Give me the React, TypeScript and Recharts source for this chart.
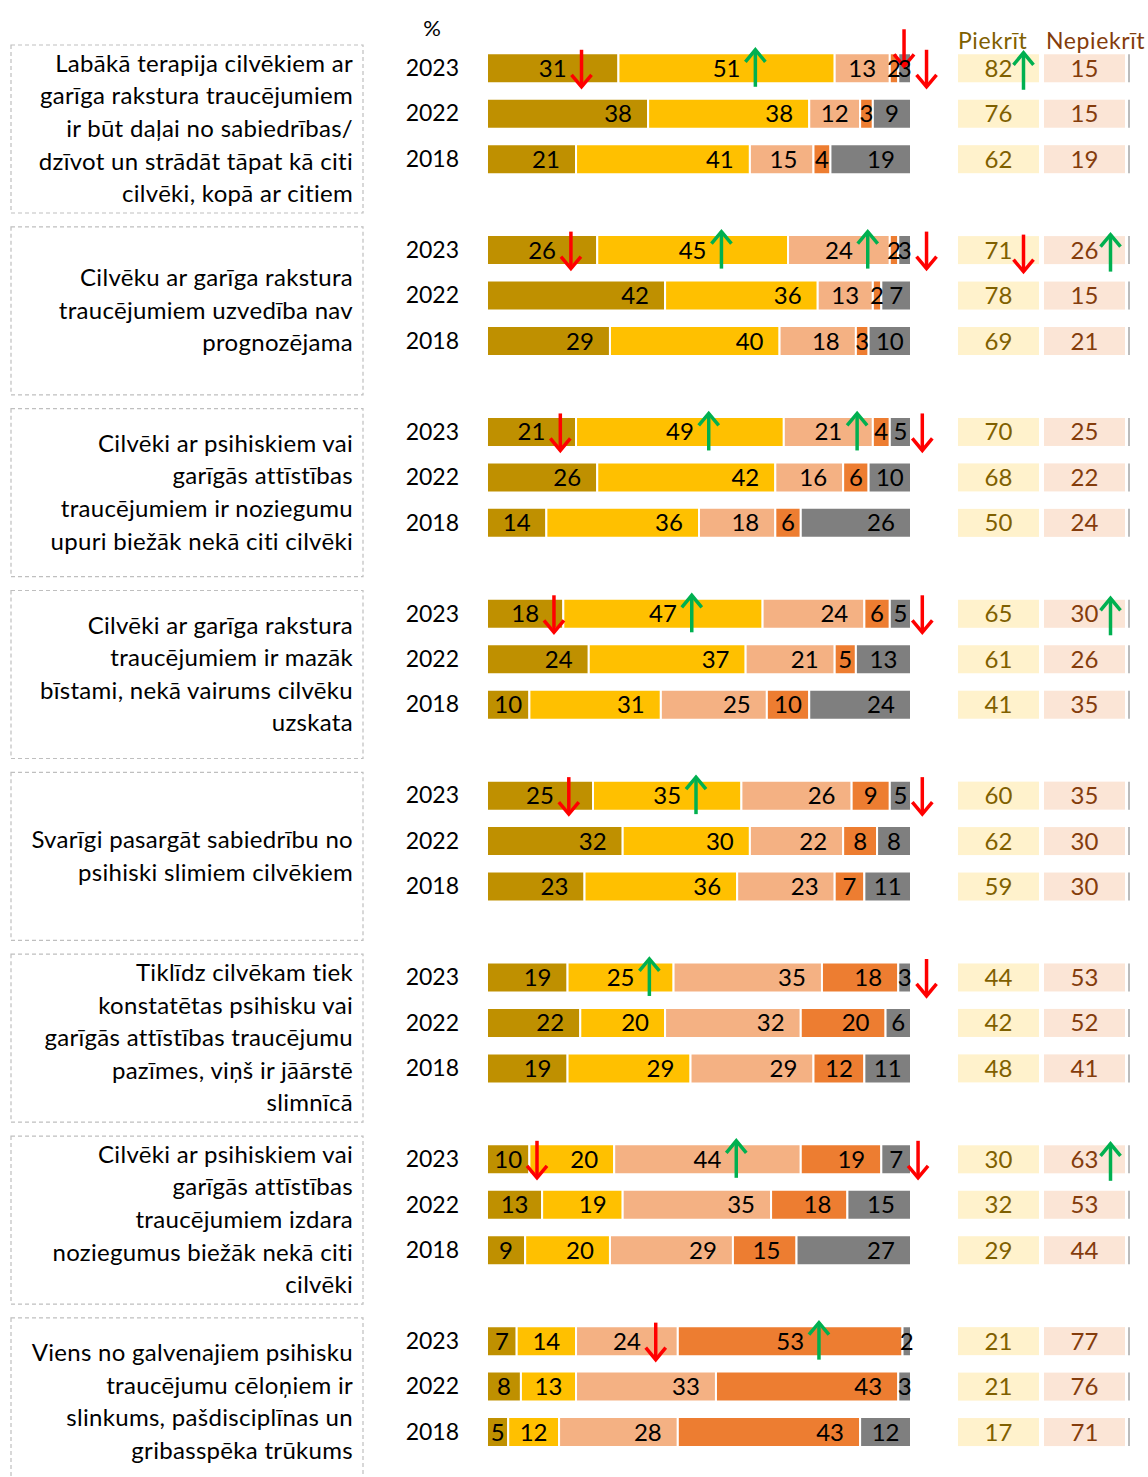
import React from "react";
import { BarChart, Bar, XAxis, YAxis } from "recharts";

const FONT = "Lato, 'Open Sans', sans-serif";

// statements (line breaks as in the original)
const QUESTIONS = [
  ["Labākā terapija cilvēkiem ar", "garīga rakstura traucējumiem", "ir būt daļai no sabiedrības/", "dzīvot un strādāt tāpat kā citi", "cilvēki, kopā ar citiem"],
  ["Cilvēku ar garīga rakstura", "traucējumiem uzvedība nav", "prognozējama"],
  ["Cilvēki ar psihiskiem vai", "garīgās attīstības", "traucējumiem ir noziegumu", "upuri biežāk nekā citi cilvēki"],
  ["Cilvēki ar garīga rakstura", "traucējumiem ir mazāk", "bīstami, nekā vairums cilvēku", "uzskata"],
  ["Svarīgi pasargāt sabiedrību no", "psihiski slimiem cilvēkiem"],
  ["Tiklīdz cilvēkam tiek", "konstatētas psihisku vai", "garīgās attīstības traucējumu", "pazīmes, viņš ir jāārstē", "slimnīcā"],
  ["Cilvēki ar psihiskiem vai", "garīgās attīstības", "traucējumiem izdara", "noziegumus biežāk nekā citi", "cilvēki"],
  ["Viens no galvenajiem psihisku", "traucējumu cēloņiem ir", "slinkums, pašdisciplīnas un", "gribasspēka trūkums"],
];

const YEARS = ["2023", "2022", "2018"];

// values per statement: [2023, 2022, 2018]
const STRONGLY_AGREE = [[31, 38, 21], [26, 42, 29], [21, 26, 14], [18, 24, 10], [25, 32, 23], [19, 22, 19], [10, 13, 9], [7, 8, 5]];
const RATHER_AGREE = [[51, 38, 41], [45, 36, 40], [49, 42, 36], [47, 37, 31], [35, 30, 36], [25, 20, 29], [20, 19, 20], [14, 13, 12]];
const RATHER_DISAGREE = [[13, 12, 15], [24, 13, 18], [21, 16, 18], [24, 21, 25], [26, 22, 23], [35, 32, 29], [44, 35, 29], [24, 33, 28]];
const STRONGLY_DISAGREE = [[2, 3, 4], [2, 2, 3], [4, 6, 6], [6, 5, 10], [9, 8, 7], [18, 20, 12], [19, 18, 15], [53, 43, 43]];
const HARD_TO_SAY = [[3, 9, 19], [3, 7, 10], [5, 10, 26], [5, 13, 24], [5, 8, 11], [3, 6, 11], [7, 15, 27], [2, 3, 12]];

const AGREE_TOTAL = [[82, 76, 62], [71, 78, 69], [70, 68, 50], [65, 61, 41], [60, 62, 59], [44, 42, 48], [30, 32, 29], [21, 21, 17]];
const DISAGREE_TOTAL = [[15, 15, 19], [26, 15, 21], [25, 22, 24], [30, 26, 35], [35, 30, 30], [53, 52, 41], [63, 53, 44], [77, 76, 71]];

// significant changes in 2023 (per segment, then totals)
const CHANGE_SEGMENTS_2023 = [
  ["down", "up", null, "down", "down"],
  ["down", "up", "up", null, "down"],
  ["down", "up", "up", null, "down"],
  ["down", "up", null, null, "down"],
  ["down", "up", null, null, "down"],
  [null, "up", null, null, "down"],
  ["down", null, "up", null, "down"],
  [null, null, "down", "up", null],
];
const CHANGE_AGREE_2023 = ["up", "down", null, null, null, null, null, null];
const CHANGE_DISAGREE_2023 = [null, "up", null, "up", null, null, "up", null];

const SERIES = [
  { key: "s1", name: "Pilnībā piekrīt", color: "#BF9000", values: STRONGLY_AGREE },
  { key: "s2", name: "Drīzāk piekrīt", color: "#FFC000", values: RATHER_AGREE },
  { key: "s3", name: "Drīzāk nepiekrīt", color: "#F4B183", values: RATHER_DISAGREE },
  { key: "s4", name: "Pilnībā nepiekrīt", color: "#ED7D31", values: STRONGLY_DISAGREE },
  { key: "s5", name: "Grūti pateikt", color: "#7F7F7F", values: HARD_TO_SAY },
];

// one row per year, with an empty row between statements
const rows: any[] = [];
QUESTIONS.forEach((_, g) => {
  YEARS.forEach((year, yi) => {
    const row: any = { id: `${g}-${year}`, group: g, yi, year, agree: AGREE_TOTAL[g][yi], disagree: DISAGREE_TOTAL[g][yi] };
    SERIES.forEach((s) => (row[s.key] = s.values[g][yi]));
    rows.push(row);
  });
  if (g < QUESTIONS.length - 1) rows.push({ id: `gap-${g}`, group: g, yi: -1 });
});

const WIDTH = 1148;
const HEIGHT = 1477;
const ROW_H = 45.46;
const TOP = 68 - ROW_H / 2;
const BOTTOM = HEIGHT - TOP - ROW_H * rows.length;

function Arrow({ x, cy, dir }: any) {
  const up = dir === "up";
  const color = up ? "#00B050" : "#FF0000";
  const top = cy - 18.5;
  const bottom = cy + 18.5;
  const tip = up ? top : bottom;
  const back = up ? tip + 12 : tip - 12;
  return (
    <g stroke={color} strokeWidth={3.5} fill="none">
      <line x1={x} y1={top} x2={x} y2={bottom} />
      <polyline points={`${x - 10},${back} ${x},${tip} ${x + 10},${back}`} />
    </g>
  );
}

// year labels + dashed statement boxes
function RowTick(props: any) {
  const { y, payload } = props;
  const row = rows.find((r) => r.id === payload.value);
  if (!row || row.yi < 0) return <g />;
  const lines = QUESTIONS[row.group];
  const mid = y + 61;
  return (
    <g fontFamily={FONT}>
      {row.group === 0 && row.yi === 0 && (
        <text x={432} y={y - 32} textAnchor="middle" fontSize={22} fill="#000">%</text>
      )}
      <text x={459} y={y + 8} textAnchor="end" fontSize={23} fill="#000">{row.year}</text>
      {row.yi === 0 && (
        <g>
          <rect x={11} y={y - 23} width={352} height={168} fill="none" stroke="#BFBFBF" strokeWidth={1.2} strokeDasharray="4 3" />
          {lines.map((l: string, i: number) => (
            <text
              key={i}
              x={353}
              y={mid + (i - (lines.length - 1) / 2) * 32.6 + 8}
              textAnchor="end"
              fontSize={24}
              letterSpacing={0.3}
              fill="#000"
            >
              {l}
            </text>
          ))}
        </g>
      )}
    </g>
  );
}

// segment labels, change arrows and the Piekrīt / Nepiekrīt cells
function RowOverlay(props: any) {
  const { y, height, payload, background } = props;
  if (!payload || payload.yi < 0) return <g />;
  const left = background?.x ?? 487;
  const w = background?.width ?? 424;
  const px = (v: number) => left + (v / 100) * w;
  const cy = y + height / 2;
  const is2023 = payload.yi === 0;
  const changes: any[] = is2023 ? CHANGE_SEGMENTS_2023[payload.group] : [];
  const items: any[] = [];
  let cum = 0;
  SERIES.forEach((s, i) => {
    const v = payload[s.key];
    const x0 = px(cum);
    const x1 = px(cum + v);
    cum += v;
    const dir = changes[i];
    const center = (x0 + x1) / 2;
    const lx = dir ? center : Math.max(center, x1 - 30);
    items.push(
      <text key={"t" + i} x={lx} y={cy + 8.5} textAnchor="middle" fontSize={24} fill="#000">{v}</text>
    );
    if (dir) {
      const raised = i === 3 && changes[4];
      const ax = raised ? center + 10 : lx + String(v).length * 6.9 + 15;
      items.push(<Arrow key={"a" + i} x={ax} cy={raised ? cy - 20.5 : cy} dir={dir} />);
    }
  });

  const right = left + w;
  const pX = right + 47;
  const nX = right + 133;
  const cellW = 81;
  const agreeDir = is2023 ? CHANGE_AGREE_2023[payload.group] : null;
  const disagreeDir = is2023 ? CHANGE_DISAGREE_2023[payload.group] : null;

  return (
    <g fontFamily={FONT}>
      {items}
      {payload.group === 0 && is2023 && (
        <g fontSize={23} letterSpacing={0.6}>
          <text x={pX} y={cy - 19} fill="#7F6000">Piekrīt</text>
          <text x={nX + 2} y={cy - 19} fill="#843C0C">Nepiekrīt</text>
        </g>
      )}
      <rect x={pX} y={y + 1} width={cellW} height={height - 2} fill="#FFF2CC" />
      <rect x={nX} y={y + 1} width={cellW} height={height - 2} fill="#FBE5D6" />
      <line x1={nX + 85} x2={nX + 85} y1={y + 1} y2={y + height - 1} stroke="#A6A6A6" strokeWidth={1.5} />
      <text x={pX + cellW / 2} y={cy + 8.5} textAnchor="middle" fontSize={24} fill="#7F6000">{payload.agree}</text>
      <text x={nX + cellW / 2} y={cy + 8.5} textAnchor="middle" fontSize={24} fill="#843C0C">{payload.disagree}</text>
      {agreeDir && <Arrow x={pX + cellW / 2 + 25} cy={cy + 3} dir={agreeDir} />}
      {disagreeDir && <Arrow x={nX + cellW / 2 + 26} cy={cy + 3} dir={disagreeDir} />}
    </g>
  );
}

export default function App() {
  return (
    <div style={{ position: "absolute", left: 0, top: 0, width: WIDTH, height: HEIGHT, overflow: "hidden", background: "#fff" }}>
      <BarChart
        width={WIDTH}
        height={HEIGHT}
        data={rows}
        layout="vertical"
        margin={{ top: TOP, right: 237, bottom: BOTTOM, left: 0 }}
        barCategoryGap={0}
      >
        <XAxis xAxisId="main" type="number" domain={[0, 100]} hide />
        <XAxis xAxisId="side" type="number" domain={[0, 200]} hide />
        <YAxis
          yAxisId="main"
          type="category"
          dataKey="id"
          width={487}
          interval={0}
          axisLine={false}
          tickLine={false}
          tick={(p: any) => <RowTick {...p} />}
        />
        <YAxis yAxisId="side" type="category" dataKey="id" hide />
        {SERIES.map((s) => (
          <Bar
            key={s.key}
            dataKey={s.key}
            name={s.name}
            stackId="main"
            xAxisId="main"
            yAxisId="main"
            fill={s.color}
            stroke="#fff"
            strokeWidth={2}
            barSize={30}
            isAnimationActive={false}
          />
        ))}
        <Bar
          dataKey="agree"
          stackId="side"
          xAxisId="side"
          yAxisId="side"
          barSize={30}
          isAnimationActive={false}
          shape={(p: any) => <RowOverlay {...p} />}
        />
      </BarChart>
    </div>
  );
}
